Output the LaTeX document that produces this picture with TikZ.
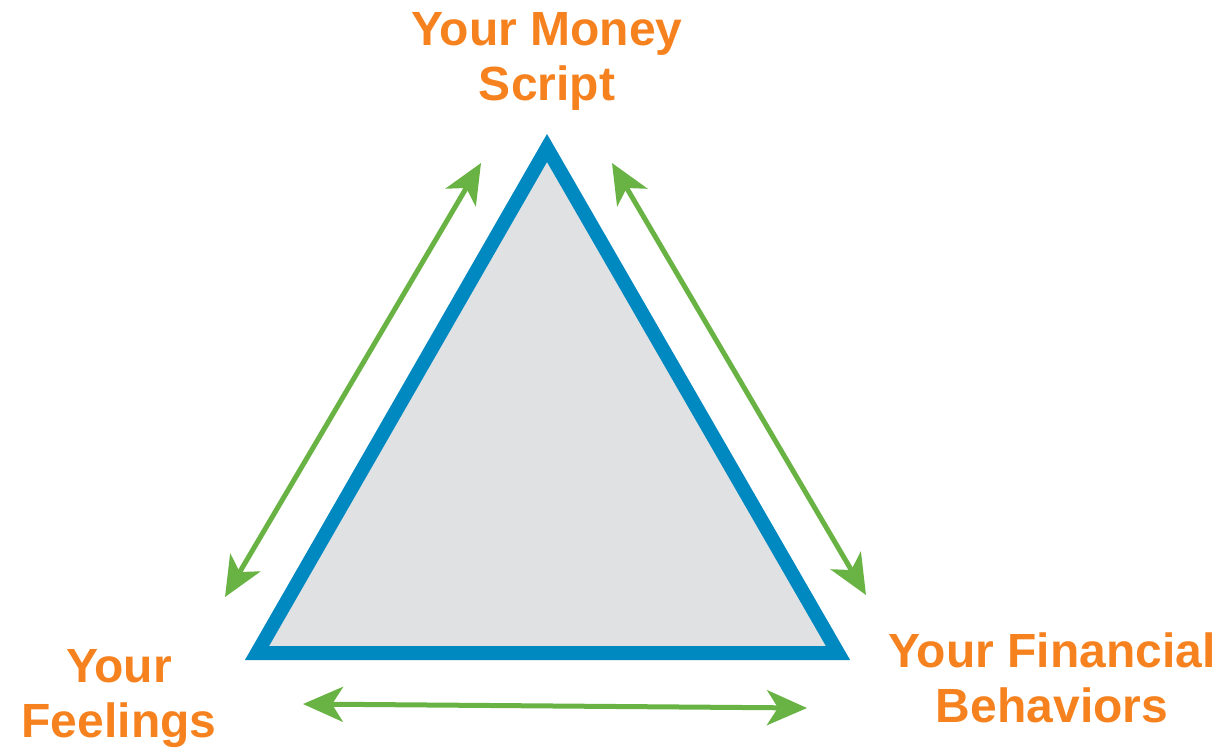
\documentclass[tikz,border=0pt]{standalone}
\usepackage{fontspec}
\setmainfont{Liberation Sans}
\usetikzlibrary{arrows.meta}
\definecolor{scriptorange}{HTML}{F6821F}
\definecolor{sideblue}{HTML}{0088C0}
\definecolor{linkgreen}{HTML}{69B345}
\definecolor{innergray}{HTML}{E0E1E3}

\begin{document}
\begin{tikzpicture}[x=1pt,y=-1pt,
		label/.style={text=scriptorange,align=center,anchor=base,inner sep=0pt,
			font=\fontsize{48}{55}\selectfont\bfseries},
		link/.style={draw=linkgreen,line width=5pt,
			{Stealth[length=40pt,width=35pt,inset=11pt]}-{Stealth[length=40pt,width=35pt,inset=11pt]}}]
	\useasboundingbox (0,0) rectangle (1230,748);

	% corners of the triangle
	\coordinate (T) at (547,148);
	\coordinate (L) at (257,653);
	\coordinate (R) at (838,653);
	\draw[draw=sideblue,fill=innergray,line width=14pt] (L) -- (T) -- (R) -- cycle;

	% base anchor sits on the last line
	\node[label] (M) at (547,100)  {Your Money\\Script};
	\node[label] (F) at (119,737) {Your\\Feelings};
	\node[label] (B) at (1052,722) {Your Financial\\Behaviors};

	% arrow ends
	\coordinate (ML) at (481,163);
	\coordinate (FL) at (225,597);
	\coordinate (MR) at (612,163);
	\coordinate (BR) at (866,595);
	\coordinate (FB) at (303,704);
	\coordinate (BF) at (807,708);

	\draw[link] (FL) -- (ML);
	\draw[link] (MR) -- (BR);
	\draw[link] (FB) -- (BF);
\end{tikzpicture}
\end{document}
